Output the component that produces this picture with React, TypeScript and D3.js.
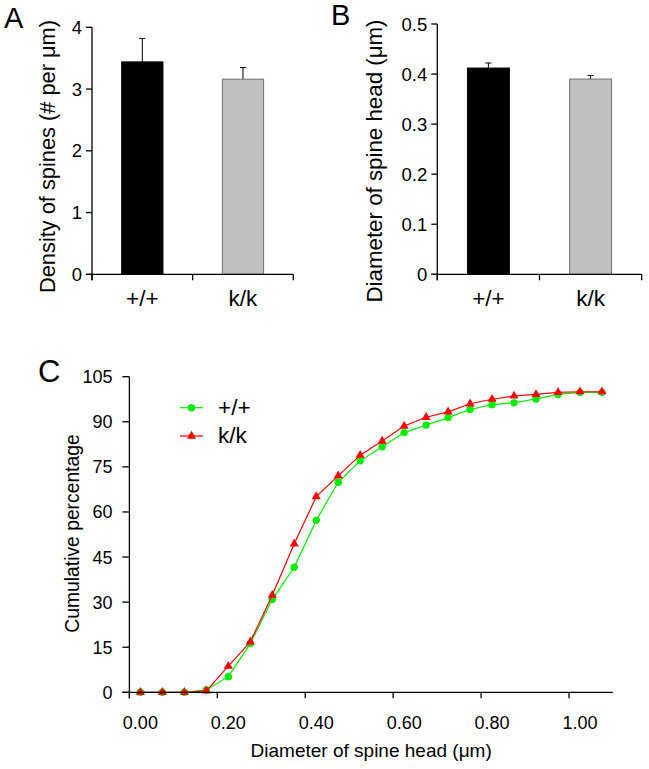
import React from 'react';
import * as d3 from 'd3';

const categories = ['+/+', 'k/k'];
const densityMeans = [3.44, 3.16];
const densityErr = [0.38, 0.19];
const densityTicks = [0, 1, 2, 3, 4];
const diameterMeans = [0.412, 0.39];
const diameterErr = [0.01, 0.007];
const diameterTicks = [0, 0.1, 0.2, 0.3, 0.4, 0.5];
const barColors = ['#000000', '#c0c0c0'];

const binCenters = [0.025, 0.075, 0.125, 0.175, 0.225, 0.275, 0.325, 0.375, 0.425, 0.475, 0.525,
  0.575, 0.625, 0.675, 0.725, 0.775, 0.825, 0.875, 0.925, 0.975, 1.025, 1.075];
const wtCum = [0, 0, 0, 0.8, 5.2, 16.2, 30.9, 41.6, 57.2, 69.9, 77.0, 81.7, 86.4, 88.9, 91.4, 94.1,
  95.7, 96.3, 97.6, 99.1, 99.8, 99.8];
const kkCum = [0, 0, 0, 0.5, 8.7, 16.8, 32.3, 49.4, 65.1, 72.0, 78.9, 83.6, 88.6, 91.5, 93.3, 96.0,
  97.5, 98.6, 99.1, 99.8, 100, 100];
const cumYTicks = [0, 15, 30, 45, 60, 75, 90, 105];
const cumXTicks = [0, 0.2, 0.4, 0.6, 0.8, 1.0];
const seriesNames = ['+/+', 'k/k'];
const seriesColors = ['#00ee00', '#ff0000'];

const FONT = '"Liberation Sans", Arial, Helvetica, sans-serif';

type BarProps = {
  x0: number; x1: number; y0: number; y1: number; domainMax: number;
  means: number[]; errs: number[]; ticks: number[]; fmt: (v: number) => string;
  yLabel: string; yLabelX: number; yLabelY: number; yLabelSize: number;
  letter: string; letterX: number; letterY: number;
};

function BarPanel(p: BarProps) {
  const x = d3.scaleBand<string>().domain(categories).range([p.x0, p.x1]);
  const y = d3.scaleLinear().domain([0, p.domainMax]).range([p.y0, p.y1]);
  const bw = x.bandwidth() * 0.41;
  return (
    <g>
      <text x={p.letterX} y={p.letterY} fontSize={29} fontFamily={FONT}>{p.letter}</text>
      {categories.map((c, i) => {
        const cx = x(c)! + x.bandwidth() / 2;
        const top = y(p.means[i]);
        const et = y(p.means[i] + p.errs[i]);
        return (
          <g key={c}>
            <line x1={cx} x2={cx} y1={top} y2={et} stroke="#000" strokeWidth={1} />
            <line x1={cx - 3} x2={cx + 3} y1={et} y2={et} stroke="#000" strokeWidth={1} />
            <rect x={cx - bw / 2} y={top} width={bw} height={p.y0 - top}
              fill={barColors[i]} stroke={i === 0 ? '#000' : '#707070'} strokeWidth={1} />
            <text x={cx} y={305.5} textAnchor="middle" fontSize={22.5} fontFamily={FONT}>{c}</text>
          </g>
        );
      })}
      <line x1={p.x0} x2={p.x0} y1={p.y1} y2={p.y0 + 6} stroke="#000" strokeWidth={1.3} />
      <line x1={p.x0 - 6} x2={p.x1} y1={p.y0} y2={p.y0} stroke="#000" strokeWidth={1.3} />
      {[0, 1, 2].map(k => {
        const xx = p.x0 + k * x.bandwidth();
        return <line key={k} x1={xx} x2={xx} y1={p.y0} y2={p.y0 + 6} stroke="#000" strokeWidth={1.3} />;
      })}
      {p.ticks.map(t => (
        <g key={t}>
          <line x1={p.x0 - 6} x2={p.x0} y1={y(t)} y2={y(t)} stroke="#000" strokeWidth={1.3} />
          <text x={p.x0 - 10} y={y(t)} dy="0.36em" textAnchor="end" fontSize={18.5} fontFamily={FONT}>{p.fmt(t)}</text>
        </g>
      ))}
      <text transform={`translate(${p.yLabelX},${p.yLabelY}) rotate(-90)`} textAnchor="middle"
        fontSize={p.yLabelSize} fontFamily={FONT}>{p.yLabel}</text>
    </g>
  );
}

function CumPanel() {
  const x = d3.scaleLinear().domain([0, 1]).range([129.4, 569]);
  const y = d3.scaleLinear().domain([0, 105]).range([692.3, 376.7]);
  const xEnd = x(1.1);
  const series = [wtCum, kkCum];
  const line = d3.line<number>().x((_, i) => x(binCenters[i])).y(d => y(d));
  const tri = d3.symbol().type(d3.symbolTriangle).size(36)();
  const marker = (s: number, cx: number, cy: number, key: string) =>
    s === 0
      ? <circle key={key} cx={cx} cy={cy} r={3.7} fill={seriesColors[0]} />
      : <path key={key} d={tri!} transform={`translate(${cx},${cy})`} fill={seriesColors[1]} />;
  const fmt = d3.format('.2f');
  return (
    <g>
      <text x={38} y={381.5} fontSize={31} fontFamily={FONT}>C</text>
      {series.map((s, si) => (
        <g key={si}>
          <path d={line(s)!} fill="none" stroke={seriesColors[si]} strokeWidth={1.2} />
          {s.map((v, i) => marker(si, x(binCenters[i]), y(v), `${si}-${i}`))}
        </g>
      ))}
      <line x1={x(0)} x2={x(0)} y1={y(105)} y2={y(0) + 6} stroke="#000" strokeWidth={1.3} />
      <line x1={x(0) - 7} x2={xEnd} y1={y(0)} y2={y(0)} stroke="#000" strokeWidth={1.3} />
      {cumYTicks.map(t => (
        <g key={t}>
          <line x1={x(0) - 7} x2={x(0)} y1={y(t)} y2={y(t)} stroke="#000" strokeWidth={1.3} />
          <text x={112.5} y={y(t)} dy="0.36em" textAnchor="end" fontSize={18} fontFamily={FONT}>{t}</text>
        </g>
      ))}
      {cumXTicks.map(t => (
        <g key={t}>
          <line x1={x(t)} x2={x(t)} y1={y(0)} y2={y(0) + 6} stroke="#000" strokeWidth={1.3} />
          <text x={x(t + 0.025)} y={729.3} textAnchor="middle" fontSize={18} fontFamily={FONT}>{fmt(t)}</text>
        </g>
      ))}
      <text x={(x(0) + xEnd) / 2} y={757} textAnchor="middle" fontSize={19} fontFamily={FONT}>Diameter of spine head (μm)</text>
      <text transform={`translate(78.5,533.5) rotate(-90)`} textAnchor="middle" fontSize={19.3} fontFamily={FONT}>Cumulative percentage</text>
      {seriesNames.map((n, i) => {
        const ly = i === 0 ? 407.7 : 436;
        return (
          <g key={n}>
            <line x1={180} x2={203} y1={ly} y2={ly} stroke={seriesColors[i]} strokeWidth={1.2} />
            {marker(i, 191.5, ly, 'lg' + i)}
            <text x={218} y={i === 0 ? 414.5 : 443.3} fontSize={22.5} fontFamily={FONT}>{n}</text>
          </g>
        );
      })}
    </g>
  );
}

export default function App() {
  return (
    <svg width={649} height={769} style={{ position: 'absolute', left: 0, top: 0, background: '#fff' }}>
      <rect width={649} height={769} fill="#fff" />
      <BarPanel x0={92} x1={293.3} y0={274.3} y1={27.3} domainMax={4}
        means={densityMeans} errs={densityErr} ticks={densityTicks} fmt={d => String(d)}
        yLabel="Density of spines (# per μm)" yLabelX={54.5} yLabelY={156.5} yLabelSize={21.8}
        letter="A" letterX={4} letterY={28.3} />
      <BarPanel x0={437.3} x1={641.7} y0={274.3} y1={24} domainMax={0.5}
        means={diameterMeans} errs={diameterErr} ticks={diameterTicks} fmt={d => (d === 0 ? '0' : d3.format('.1f')(d))}
        yLabel="Diameter of spine head (μm)" yLabelX={381.5} yLabelY={161} yLabelSize={22.3}
        letter="B" letterX={331} letterY={25.3} />
      <CumPanel />
    </svg>
  );
}
